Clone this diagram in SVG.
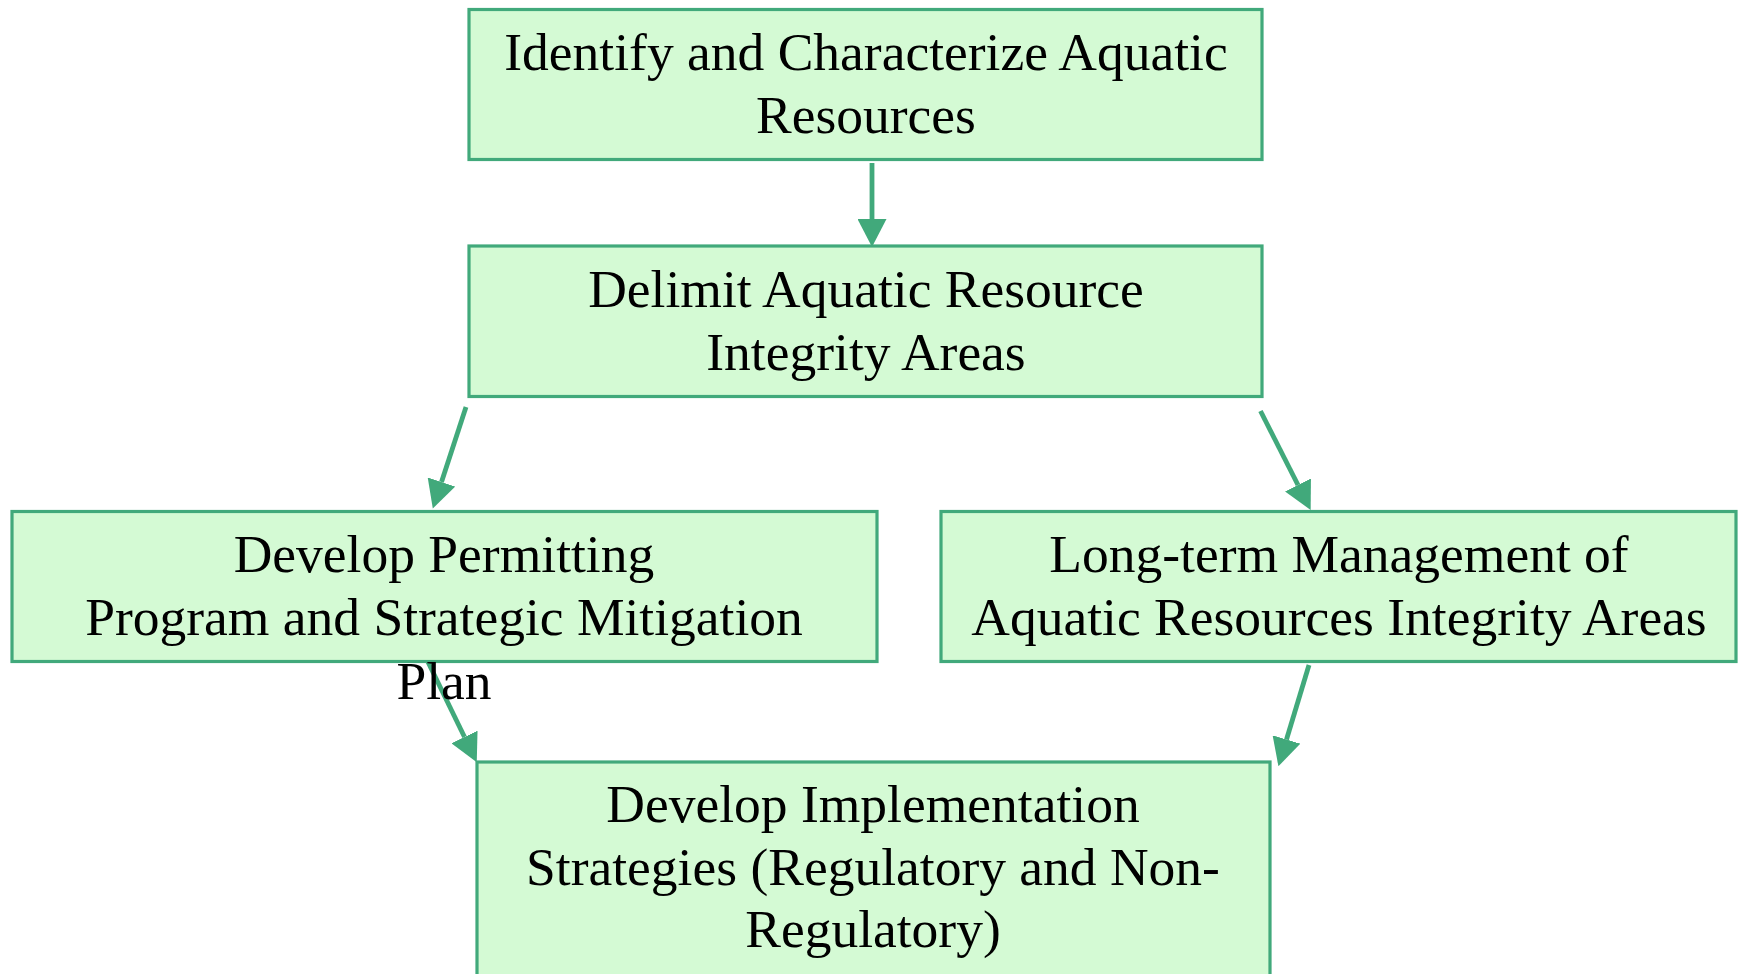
<svg xmlns="http://www.w3.org/2000/svg" width="1739" height="974" viewBox="0 0 1739 974">
  <style>
    .node rect { fill: #d4fad4; stroke: #41a97b; stroke-width: 3.2; }
    .node text { font-family: "Liberation Serif", "Times New Roman", serif; font-size: 53.5px; fill: #000000; text-anchor: middle; }
    .edge { fill: none; stroke: #41a97b; stroke-width: 4.8; marker-end: url(#head); }
  </style>
  <defs>
    <marker id="head" markerUnits="userSpaceOnUse" viewBox="0 0 28 29" markerWidth="28" markerHeight="29" refX="0" refY="14.5" orient="auto">
      <path d="M0,0 L28,14.5 L0,29 Z" fill="#41a97b"/>
    </marker>
  </defs>
  <rect width="1739" height="974" fill="#ffffff"/>

  <!-- flow arrows between the steps -->
  <g id="connectors">
    <path class="edge" d="M872,163 L872,219"/>
    <path class="edge" d="M466,407 L441.5,482"/>
    <path class="edge" d="M1260.5,411 L1298,485"/>
    <path class="edge" d="M428,662 L464.5,737"/>
    <path class="edge" d="M1309,665 L1286.5,739.5"/>
  </g>

  <g id="identify" class="node">
    <rect x="469" y="9.5" width="793" height="150"/>
    <text x="866" y="70">Identify and Characterize Aquatic</text>
    <text x="866" y="133">Resources</text>
  </g>

  <g id="delimit" class="node">
    <rect x="469" y="246" width="793" height="150.5"/>
    <text x="866" y="307">Delimit Aquatic Resource</text>
    <text x="866" y="370">Integrity Areas</text>
  </g>

  <g id="permitting" class="node">
    <rect x="12" y="511.5" width="865" height="150"/>
    <text x="444" y="572">Develop Permitting</text>
    <text x="444" y="635">Program and Strategic Mitigation</text>
    <text x="444" y="699">Plan</text>
  </g>

  <g id="longterm" class="node">
    <rect x="941" y="511.5" width="795" height="150"/>
    <text x="1339" y="572">Long-term Management of</text>
    <text x="1339" y="635">Aquatic Resources Integrity Areas</text>
  </g>

  <g id="implementation" class="node">
    <rect x="477" y="762" width="793" height="250"/>
    <text x="873" y="822">Develop Implementation</text>
    <text x="873" y="885">Strategies (Regulatory and Non-</text>
    <text x="873" y="947">Regulatory)</text>
  </g>
</svg>
